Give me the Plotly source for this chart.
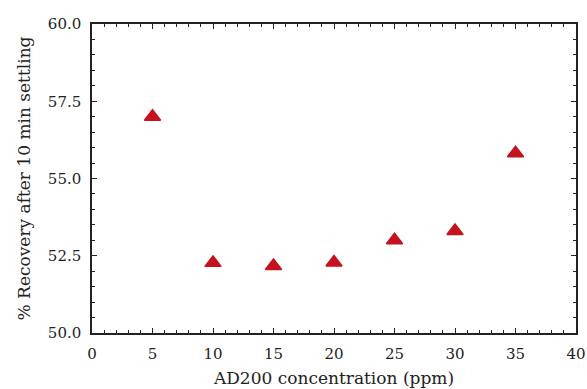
import plotly.graph_objects as go

# Data
concentration_ppm = [5, 10, 15, 20, 25, 30, 35]
recovery_pct = [57.0, 52.27, 52.17, 52.28, 53.0, 53.3, 55.82]

x_title = "AD200 concentration (ppm)"
y_title = "% Recovery after 10 min settling"

FONT = "DejaVu Serif"
AXIS_COLOR = "#222222"

fig = go.Figure()
fig.add_trace(go.Scatter(
    x=concentration_ppm,
    y=recovery_pct,
    mode="markers",
    marker=dict(symbol="triangle-up", size=14, color="#C4121E",
                line=dict(color="#C4121E", width=1.5)),
    showlegend=False,
))

axis_common = dict(
    showgrid=False,
    zeroline=False,
    showline=True,
    linecolor=AXIS_COLOR,
    linewidth=1.5,
    mirror="ticks",
    ticks="inside",
    ticklen=5,
    tickwidth=1.3,
    tickcolor=AXIS_COLOR,
    tickfont=dict(family=FONT, size=15, color="#222222"),
    automargin=False,
)

fig.update_xaxes(
    range=[0, 40],
    dtick=5,
    tick0=0,
    minor=dict(dtick=1, ticks="inside", ticklen=3, tickwidth=1, tickcolor=AXIS_COLOR),
    title=dict(text=x_title, font=dict(family=FONT, size=17, color="#222222"), standoff=10),
    ticklabelstandoff=6,
    **axis_common,
)
fig.update_yaxes(
    range=[50, 60],
    dtick=2.5,
    tick0=50,
    tickformat=".1f",
    minor=dict(dtick=0.5, ticks="inside", ticklen=3, tickwidth=1, tickcolor=AXIS_COLOR),
    title=dict(text=y_title, font=dict(family=FONT, size=17, color="#222222"), standoff=13),
    ticklabelstandoff=6,
    **axis_common,
)

fig.update_layout(
    width=587,
    height=389,
    margin=dict(l=92, r=11, t=24, b=56),
    plot_bgcolor="white",
    paper_bgcolor="white",
)

fig.write_html("out.html")
